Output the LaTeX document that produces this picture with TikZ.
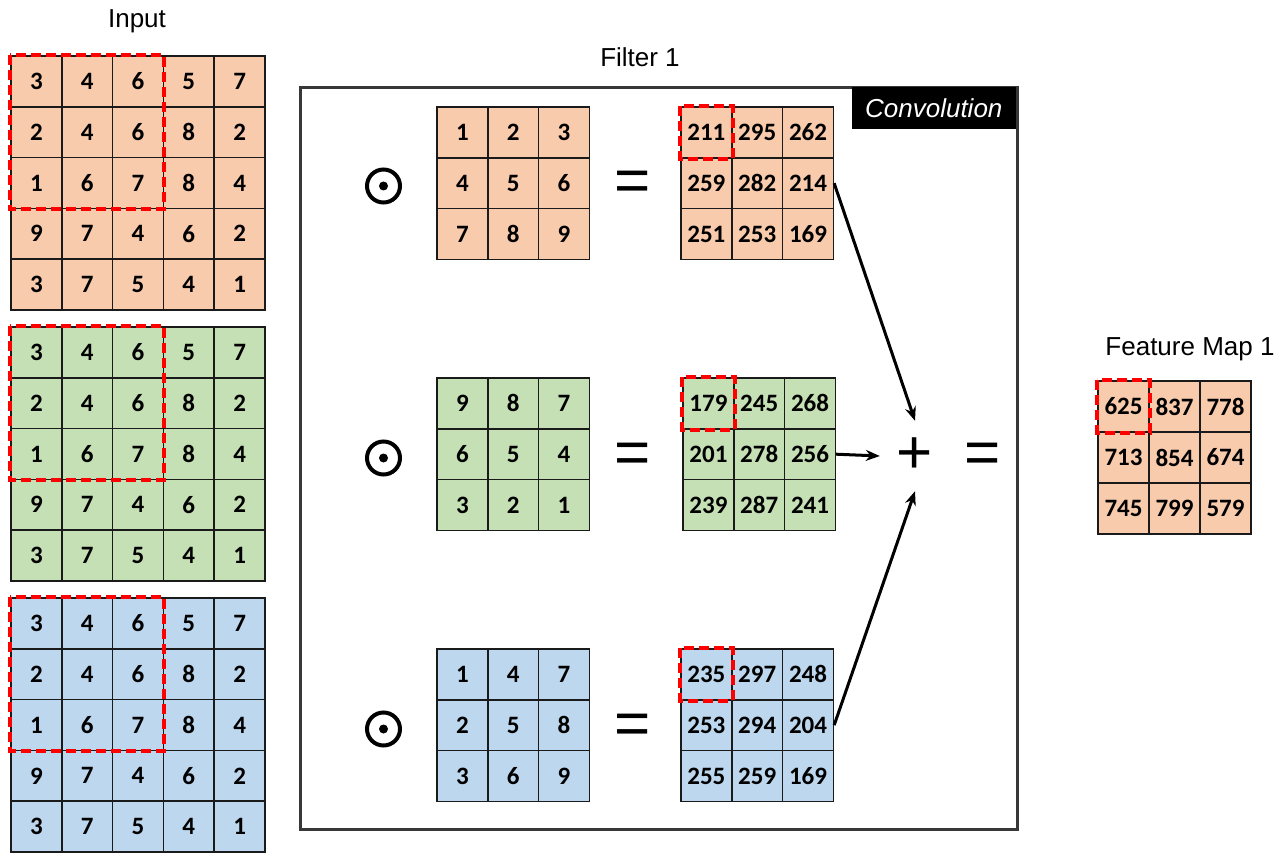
\documentclass[tikz,border=0pt]{standalone}
\usepackage{fontspec}
\setmainfont{Liberation Sans}
\newfontfamily\cellfam{Carlito}
\usetikzlibrary{arrows.meta}
\definecolor{orng}{HTML}{F8CBAD}
\definecolor{grn}{HTML}{C5E0B4}
\definecolor{blu}{HTML}{BDD7EE}
\definecolor{redd}{HTML}{FF0000}
\definecolor{frm}{HTML}{383838}
\definecolor{cline}{HTML}{1A1A1A}
% name, x0, y0, ncols, cellsize, fill, values
\newcommand{\mkgrid}[7]{%
  \foreach \v [count=\k from 0] in {#7} {%
    \pgfmathtruncatemacro{\rr}{floor(\k/#4)}%
    \pgfmathtruncatemacro{\cc}{mod(\k,#4)}%
    \node[cell, fill=#6, minimum size=#5pt] (#1-\rr-\cc) at ({#2+(\cc+0.5)*#5}, {#3+(\rr+0.5)*#5}) {\v};
  }%
}
\begin{document}
\begin{tikzpicture}[x=1pt,y=-1pt,
  cell/.style={draw=cline, line width=1.5pt, inner sep=0pt, font=\cellfam\bfseries\fontsize{25}{28}\selectfont},
  sel/.style={draw=redd, line width=4pt, dash pattern=on 10pt off 5pt},
  lbl/.style={font=\fontsize{26}{30}\selectfont, anchor=base, inner sep=0pt},
  sym/.style={font=\fontsize{62}{62}\selectfont, inner sep=0pt},
  odotc/.style={circle, draw, line width=4pt, minimum size=33pt, inner sep=0pt},
  arr/.style={line width=3pt, -{Stealth[length=14pt,width=11pt]}},
  frame/.style={draw=frm, line width=3pt, inner sep=0pt}
]
\useasboundingbox (0,0) rectangle (1278,853);

% labels
\node[lbl] (linput) at (137,28) {Input};
\node[lbl] (lfilter) at (640,67) {Filter 1};
\node[lbl] (lfeat) at (1190,355) {Feature Map 1};

% frame
\node[frame, minimum width=717pt, minimum height=742pt] (box) at (658.5,458.5) {};
\node[fill=black, text=white, font=\itshape\fontsize{26}{30}\selectfont, minimum width=164pt, minimum height=42pt, inner sep=0pt, anchor=north east] (conv) at (1016,87) {Convolution};

% input grids
\mkgrid{inA}{11}{56}{5}{50.8}{orng}{3,4,6,5,7,2,4,6,8,2,1,6,7,8,4,9,7,4,6,2,3,7,5,4,1}
\mkgrid{inB}{11}{327}{5}{50.8}{grn}{3,4,6,5,7,2,4,6,8,2,1,6,7,8,4,9,7,4,6,2,3,7,5,4,1}
\mkgrid{inC}{11}{598}{5}{50.8}{blu}{3,4,6,5,7,2,4,6,8,2,1,6,7,8,4,9,7,4,6,2,3,7,5,4,1}
\draw[sel] (inA-0-0.north west) rectangle (inA-2-2.south east);
\draw[sel] (inB-0-0.north west) rectangle (inB-2-2.south east);
\draw[sel] (inC-0-0.north west) rectangle (inC-2-2.south east);

% filters
\mkgrid{fA}{437}{107}{3}{50.8}{orng}{1,2,3,4,5,6,7,8,9}
\mkgrid{fB}{437}{378}{3}{50.8}{grn}{9,8,7,6,5,4,3,2,1}
\mkgrid{fC}{437}{649}{3}{50.8}{blu}{1,4,7,2,5,8,3,6,9}

% results
\mkgrid{rA}{681}{107}{3}{50.8}{orng}{211,295,262,259,282,214,251,253,169}
\mkgrid{rB}{683}{378}{3}{50.8}{grn}{179,245,268,201,278,256,239,287,241}
\mkgrid{rC}{681}{649}{3}{50.8}{blu}{235,297,248,253,294,204,255,259,169}
\draw[sel] (rA-0-0.north west) rectangle (rA-0-0.south east);
\draw[sel] (rB-0-0.north west) rectangle (rB-0-0.south east);
\draw[sel] (rC-0-0.north west) rectangle (rC-0-0.south east);

% feature map
\mkgrid{fm}{1098}{381}{3}{51}{orng}{625,837,778,713,854,674,745,799,579}
\draw[sel] (fm-0-0.north west) rectangle (fm-0-0.south east);

% odot symbols
\node[odotc] (od1) at (383.5,186) {};
\node[odotc] (od2) at (383.5,458) {};
\node[odotc] (od3) at (383.5,729) {};
\fill (od1.center) circle[radius=4.5pt];
\fill (od2.center) circle[radius=4.5pt];
\fill (od3.center) circle[radius=4.5pt];

% equals
\node[sym] (eq1) at (633,186) {=};
\node[sym] (eq2) at (633,458) {=};
\node[sym] (eq3) at (633,729) {=};
\node[sym] (eq4) at (983,458) {=};

% plus
\node[sym, minimum width=70pt, minimum height=70pt] (plus) at (915,456) {+};

% arrows
\draw[arr] (rA-1-2.east) -- (plus.north);
\draw[arr] (rB-1-2.east) -- (plus.west);
\draw[arr] (rC-1-2.east) -- (plus.south);
\end{tikzpicture}
\end{document}
